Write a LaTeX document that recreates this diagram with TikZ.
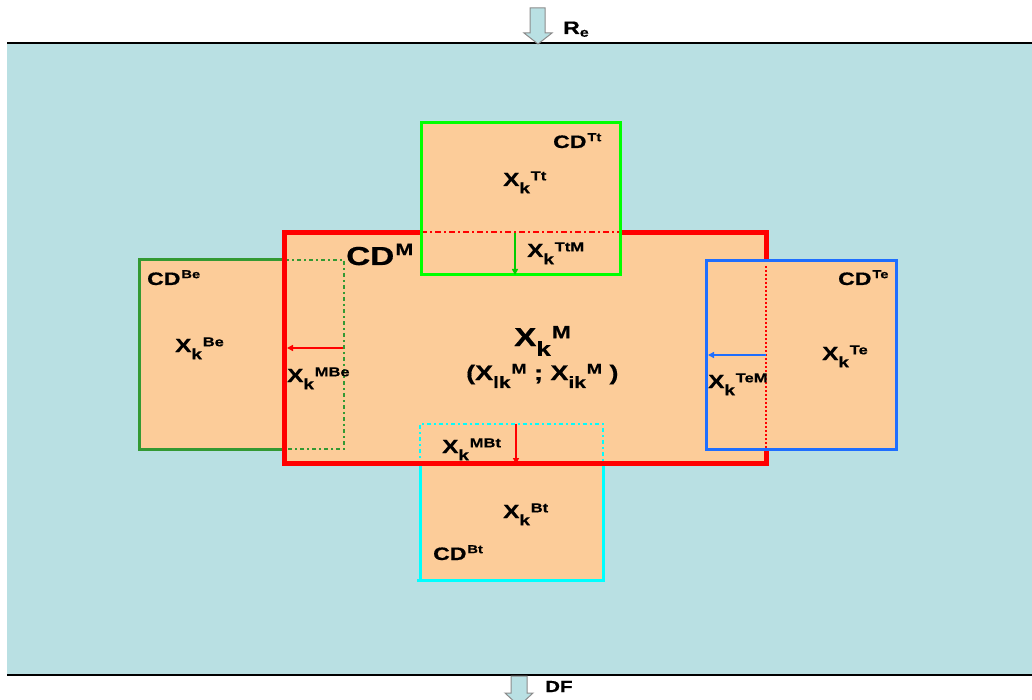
\documentclass[tikz,border=0pt]{standalone}
\usepackage{fontspec}
\setmainfont{Liberation Sans}[BoldFeatures={FakeStretch=1.28,FakeBold=0.6}]
\usetikzlibrary{arrows.meta}
\definecolor{bgblue}{RGB}{185,224,227}
\definecolor{peach}{RGB}{252,204,153}
\definecolor{dkgreen}{RGB}{51,153,51}
\definecolor{brgreen}{RGB}{0,255,0}
\definecolor{tblue}{RGB}{30,110,255}
\definecolor{tcyan}{RGB}{0,255,255}
\definecolor{tred}{RGB}{255,0,0}
\definecolor{arrgray}{RGB}{140,140,140}
\newcommand\XL[3]{#1\raisebox{-0.38em}{\scalebox{0.78}{#2}}\hspace{0.04em}\raisebox{0.3em}{\scalebox{0.68}{#3}}}
\newcommand\CDL[2]{#1\hspace{0.05em}\raisebox{0.38em}{\scalebox{0.64}{#2}}}
\tikzset{
  lbl/.style={anchor=base west, inner sep=0pt, font=\fontsize{19}{22}\selectfont\bfseries},
  cdlbl/.style={anchor=base west, inner sep=0pt, font=\fontsize{18}{21}\selectfont\bfseries},
  biglbl/.style={anchor=base west, inner sep=0pt, font=\fontsize{26}{30}\selectfont\bfseries},
  boxfill/.style={fill=peach, draw=none},
  thinarr/.style={line width=2pt, -{Triangle[length=6pt, width=6pt]}},
  blockarr/.style={fill=bgblue, draw=arrgray, line width=1pt},
}
\begin{document}
\begin{tikzpicture}[x=1pt,y=-1pt]
\useasboundingbox (0,0) rectangle (1032,700);
% background
\fill[white] (0,0) rectangle (1032,700);
\fill[bgblue] (7,43) rectangle (1032,675);
\draw[line width=1.5pt] (7,43) -- (1032,43);
\draw[line width=1.5pt] (7,675) -- (1032,675);
% block arrows
\draw[blockarr] (530,8) -- (545,8) -- (545,33) -- (552,33) -- (538,44) -- (524,33) -- (530,33) -- cycle;
\node[anchor=base west, inner sep=0pt, font=\fontsize{18}{21}\selectfont\bfseries] (re) at (563,34) {R\raisebox{-0.15em}{\scalebox{0.7}{e}}};
\draw[blockarr] (511,676) -- (527,676) -- (527,693) -- (533,693) -- (519,706) -- (505,693) -- (511,693) -- cycle;
\node[anchor=base west, inner sep=0pt, font=\fontsize{16}{19}\selectfont\bfseries] (df) at (545,692) {DF};
% fills underneath
\fill[boxfill] (139,260) rectangle (344,449);
\fill[boxfill] (420,423) rectangle (603,580);
\fill[boxfill] (282,231) rectangle (768,465);
% Be borders
\draw[dkgreen, line width=3pt] (285,260) -- (139,260) -- (139,449) -- (285,449);
\draw[dkgreen, line width=2.5pt, dash pattern=on 4pt off 3pt on 2pt off 3pt] (285,260) -- (344,260) -- (344,449) -- (285,449);
% Bt borders
\draw[tcyan, line width=3pt] (420,465) -- (420,580) -- (417,580) -- (603,580) -- (603,465);
\draw[tcyan, line width=2.5pt, dash pattern=on 4pt off 3pt on 2pt off 3pt] (420,465) -- (420,424) -- (603,424) -- (603,465);
% main red box
\draw[tred, line width=5pt] (284,233) rectangle (766,463);
% Tt box
\fill[boxfill] (421,123) rectangle (620,275);
\draw[tred, line width=2pt, dash pattern=on 6pt off 3pt on 2pt off 3pt] (421,232) -- (620,232);
\draw[brgreen, line width=3pt] (421,123) rectangle (620,275);
% Te box
\fill[boxfill] (706,261) rectangle (896,449);
\draw[tred, line width=2pt, dash pattern=on 2pt off 2pt] (766,266) -- (766,449);
\draw[tblue, line width=3pt] (706,261) rectangle (896,449);
% arrow coordinates
\coordinate (ttA) at (515,233);
\coordinate (ttB) at (515,275);
\coordinate (beA) at (343,348);
\coordinate (beB) at (287,348);
\coordinate (teA) at (766,355);
\coordinate (teB) at (708,355);
\coordinate (btA) at (516,424);
\coordinate (btB) at (516,464);
\draw[thinarr, brgreen!80!black] (ttA) -- (ttB);
\draw[thinarr, tred] (beA) -- (beB);
\draw[thinarr, tblue] (teA) -- (teB);
\draw[thinarr, tred] (btA) -- (btB);
% labels
\node[biglbl] (cdm) at (346,265) {\CDL{CD}{M}};
\node[cdlbl] (cdtt) at (553,148) {\CDL{CD}{Tt}};
\node[lbl] (xtt) at (503,186) {\XL{X}{k}{Tt}};
\node[lbl] (xttm) at (527,257) {\XL{X}{k}{TtM}};
\node[cdlbl] (cdbe) at (147,285) {\CDL{CD}{Be}};
\node[lbl] (xbe) at (175,352) {\XL{X}{k}{Be}};
\node[lbl] (xmbe) at (287,382) {\XL{X}{k}{MBe}};
\node[cdlbl] (cdte) at (838,285) {\CDL{CD}{Te}};
\node[lbl] (xte) at (822,360) {\XL{X}{k}{Te}};
\node[lbl] (xtem) at (708,388) {\XL{X}{k}{TeM}};
\node[biglbl] (xm) at (514,346) {\XL{X}{k}{M}};
\node[anchor=base west, inner sep=0pt, font=\fontsize{21}{25}\selectfont\bfseries] (xlk) at (466,380) {(\XL{X}{lk}{M} ; \XL{X}{ik}{M} )};
\node[lbl] (xmbt) at (442,453) {\XL{X}{k}{MBt}};
\node[lbl] (xbt) at (503,518) {\XL{X}{k}{Bt}};
\node[cdlbl] (cdbt) at (433,560) {\CDL{CD}{Bt}};
\end{tikzpicture}
\end{document}
